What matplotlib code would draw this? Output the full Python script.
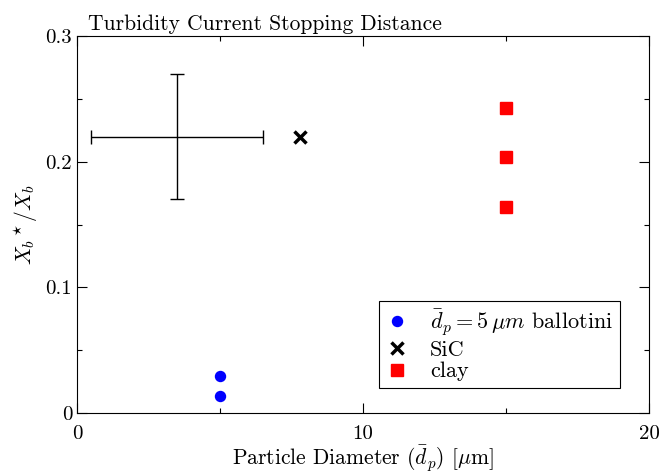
import matplotlib
matplotlib.use("Agg")
import matplotlib.pyplot as plt
from matplotlib.ticker import MultipleLocator, FormatStrFormatter

plt.rcParams['font.family'] = 'serif'
plt.rcParams['font.serif'] = ['cmr10']
plt.rcParams['mathtext.fontset'] = 'cm'
plt.rcParams['axes.formatter.use_mathtext'] = True

# data
ball_x = [5, 5]
ball_y = [0.0294, 0.0135]
sic_x = [7.8]
sic_y = [0.22]
clay_x = [15, 15, 15]
clay_y = [0.2427, 0.2037, 0.164]
err_x = [3.5]
err_y = [0.22]
err_dx = [3.0]
err_dy = [0.05]

fig = plt.figure(figsize=(6.6, 4.74), dpi=100)
ax = fig.add_axes([77/660, 1 - 413/474, 572/660, 377/474])

ax.errorbar(err_x, err_y, xerr=err_dx, yerr=err_dy, fmt='none', ecolor='black',
            elinewidth=1.0, capsize=5, capthick=1.0)
ax.plot(ball_x, ball_y, 'o', color='blue', ms=7.2, ls='none',
        label=r'$\bar{d}_p = 5\,\mu m$ ballotini')
ax.plot(sic_x, sic_y, 'x', color='black', ms=8, mew=2.5, ls='none', label='SiC')
ax.plot(clay_x, clay_y, 's', color='red', ms=8.5, ls='none', label='clay')

ax.set_xlim(0, 20)
ax.set_ylim(0, 0.3)
ax.xaxis.set_major_locator(MultipleLocator(10))
ax.xaxis.set_minor_locator(MultipleLocator(5))
ax.yaxis.set_major_locator(MultipleLocator(0.1))
ax.yaxis.set_minor_locator(MultipleLocator(0.05))
ax.xaxis.set_major_formatter(FormatStrFormatter('%g'))
ax.yaxis.set_major_formatter(FormatStrFormatter('%g'))
ax.tick_params(which='both', direction='in', top=True, right=True, labelsize=15)
ax.tick_params(which='major', length=7.5, width=0.8)
ax.tick_params(which='minor', length=3.5, width=0.8)
ax.tick_params(axis='x', pad=9)

ax.set_xlabel(r'Particle Diameter $(\bar{d}_p)$ [$\mu$m]', fontsize=15.5, labelpad=0)
ax.set_ylabel(r'$X_b{}^\star/X_b$', fontsize=15.5, labelpad=4)
ax.set_title('Turbidity Current Stopping Distance', loc='left', x=0.019,
             fontsize=15.5, pad=4)

leg = ax.legend(loc='lower right', bbox_to_anchor=(0.949, 0.066), fontsize=16,
                fancybox=False, edgecolor='black', framealpha=1, borderaxespad=0,
                handlelength=1.0, handletextpad=1.0, borderpad=0.3, labelspacing=0.1)
leg.get_frame().set_linewidth(0.8)

fig.savefig('out.png', dpi=100)
